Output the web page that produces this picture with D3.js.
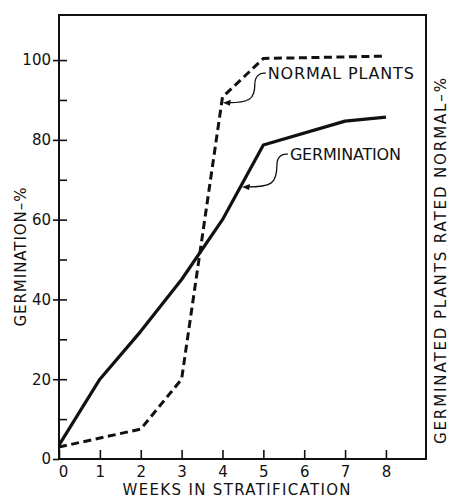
<!DOCTYPE html>
<html><head><meta charset="utf-8">
<script src="https://cdn.jsdelivr.net/npm/d3@7"></script>
<style>
body{margin:0;background:#fff;}
text{font-family:"DejaVu Sans",sans-serif;fill:#111;}
</style></head>
<body><svg id="c" width="449" height="499"></svg>
<script>
// ---- data ----
const germWeeks = [0, 1, 2, 3, 4, 5, 7, 8];
const germValues = [3.5, 20, 32, 45, 60, 78.7, 84.7, 85.7];
const normalWeeks = [0, 2, 3, 4, 5, 8];
const normalValues = [3, 7.5, 20, 90.7, 100.4, 101];
const xTicks = [0, 1, 2, 3, 4, 5, 6, 7, 8];
const yMajorTicks = [0, 20, 40, 60, 80, 100];
const yMinorTicks = [10, 30, 50, 70, 90];
const seriesLabels = ["NORMAL PLANTS", "GERMINATION"];
const xTitle = "WEEKS IN STRATIFICATION";
const yTitle = "GERMINATION\u2013%";
const y2Title = "GERMINATED PLANTS RATED NORMAL\u2013%";
// annotation anchors (week, percent): label baseline start, arrow tip
const normalNote = {label:[5.11, 95.2], tip:[4.01, 89.3]};
const germNote = {label:[5.65, 74.9], tip:[4.48, 68.2]};

const svg = d3.select("#c");
const L = 59, R = 426, T = 15, B = 459;
const x = d3.scaleLinear().domain([0, 8.98]).range([L, R]);
const y = d3.scaleLinear().domain([0, 111.3]).range([B, T]);

// frame
svg.append("rect").attr("x", L).attr("y", T).attr("width", R - L).attr("height", B - T)
  .attr("fill", "none").attr("stroke", "#111").attr("stroke-width", 2);

// y axis: labels + outward part of major ticks
const yAx = svg.append("g").attr("transform", `translate(${L},0)`)
  .call(d3.axisLeft(y).tickValues(yMajorTicks).tickSize(6).tickPadding(2).tickFormat(d3.format("d")));
yAx.select(".domain").remove();
yAx.selectAll("line").attr("stroke", "#111").attr("stroke-width", 1.6);
yAx.selectAll("text").attr("font-size", 15).style("font-family", '"DejaVu Sans",sans-serif').attr("fill", "#111");
// inward ticks
const yIn = svg.append("g").attr("transform", `translate(${L},0)`)
  .call(d3.axisLeft(y).tickValues(yMajorTicks.concat(yMinorTicks).filter(d => d > 0)).tickSize(-8).tickFormat(""));
yIn.select(".domain").remove();
yIn.selectAll("line").attr("stroke", "#111").attr("stroke-width", 1.6);

// x axis
const xAx = svg.append("g").attr("transform", `translate(0,${B})`)
  .call(d3.axisBottom(x).tickValues(xTicks).tickSize(-9).tickPadding(7).tickFormat(d3.format("d")));
xAx.select(".domain").remove();
xAx.selectAll("line").attr("stroke", "#111").attr("stroke-width", 1.6);
xAx.selectAll("text").attr("font-size", 15).style("font-family", '"DejaVu Sans",sans-serif').attr("fill", "#111")
  .attr("dx", d => d === 0 ? 4 : 0);

// lines
const line = d3.line().x(d => x(d[0])).y(d => y(d[1]));
svg.append("path").datum(d3.zip(germWeeks, germValues)).attr("d", line)
  .attr("fill", "none").attr("stroke", "#111").attr("stroke-width", 3.2).attr("stroke-linejoin", "round");
svg.append("path").datum(d3.zip(normalWeeks, normalValues)).attr("d", line)
  .attr("fill", "none").attr("stroke", "#111").attr("stroke-width", 3).attr("stroke-dasharray", "8,4.5");

// annotations
function note(n, text, fs, tl) {
  const lx = x(n.label[0]), ly = y(n.label[1]);
  const tx = x(n.tip[0]), ty = y(n.tip[1]);
  svg.append("text").attr("x", lx).attr("y", ly).attr("font-size", fs)
    .attr("textLength", tl).attr("lengthAdjust", "spacing").text(text);
  const sx = lx - 2, sy = ly - 6;
  const mx = sx - 11;
  const p = d3.path();
  p.moveTo(sx, sy);
  p.bezierCurveTo(sx - 6, sy - 1, mx, sy + 3, mx, sy + 11);
  p.bezierCurveTo(mx, ty - 3, mx - 6, ty, tx + 5, ty);
  svg.append("path").attr("d", p.toString()).attr("fill", "none").attr("stroke", "#111").attr("stroke-width", 1.3);
  // arrowhead
  svg.append("path").attr("d", `M${tx},${ty} L${tx + 8},${ty - 3} L${tx + 7},${ty + 3} Z`).attr("fill", "#111");
}
note(normalNote, seriesLabels[0], 16, 146);
note(germNote, seriesLabels[1], 16, 111);

// titles
svg.append("text").attr("x", (L + R) / 2 - 6).attr("y", 495).attr("text-anchor", "middle")
  .attr("font-size", 15).attr("textLength", 228).attr("lengthAdjust", "spacing").text(xTitle);
svg.append("text").attr("transform", `translate(26,${257}) rotate(-90)`).attr("text-anchor", "middle")
  .attr("font-size", 15).attr("textLength", 139).attr("lengthAdjust", "spacing").text(yTitle);
svg.append("text").attr("transform", `translate(446,${261}) rotate(-90)`).attr("text-anchor", "middle")
  .attr("font-size", 15).attr("textLength", 366).attr("lengthAdjust", "spacing").text(y2Title);
</script></body></html>
